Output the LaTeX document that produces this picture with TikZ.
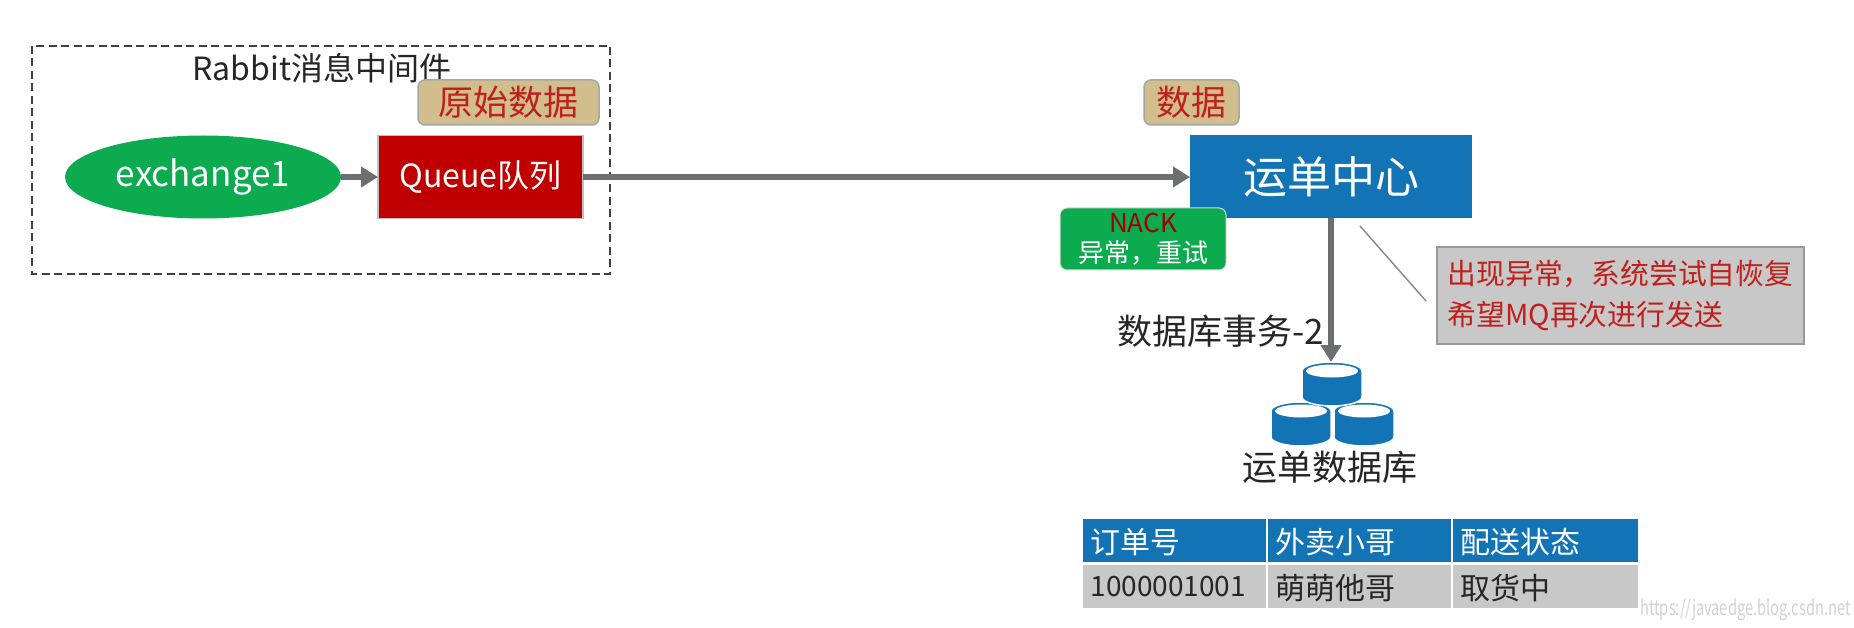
\documentclass[tikz,border=0pt]{standalone}
\usepackage{fontspec}
\setmainfont{Noto Sans CJK SC}
\usetikzlibrary{arrows.meta,shapes.geometric}

\definecolor{boxblue}{HTML}{1273B5}
\definecolor{boxgreen}{HTML}{0CAB50}
\definecolor{boxred}{HTML}{C00000}
\definecolor{boxtan}{HTML}{D2BD8D}
\definecolor{boxgray}{HTML}{C8C8C8}
\definecolor{linegray}{HTML}{6D6E72}
\definecolor{textred}{HTML}{C0201C}

\newcommand{\fsz}[1]{\fontsize{#1}{#1}\selectfont}

\tikzset{
    flow/.style={draw=linegray, line width=5.5pt, -{Triangle[length=17pt,width=20pt]}},
    tagbox/.style={draw=black!35, line width=1.5pt, fill=boxtan, rounded corners=7pt, text=textred, font=\fsz{35}, anchor=center, inner sep=0pt, outer sep=0pt},
    solidbox/.style={anchor=center, inner sep=0pt, outer sep=0pt, text=white},
    headcell/.style={fill=boxblue, text=white, anchor=north west, minimum height=43pt, inner sep=0pt, outer sep=0pt, font=\fsz{30}, align=left, text depth=0pt},
    rowcell/.style={fill=boxgray, text=black!85, anchor=north west, minimum height=43pt, inner sep=0pt, outer sep=0pt, font=\fsz{30}, align=left, text depth=0pt},
    dbcyl/.pic={
        \filldraw[fill=boxblue, draw=white, line width=1.5pt] (-30,-13) -- (-30,13)
            arc[start angle=180, end angle=0, x radius=30, y radius=9]
            -- (30,-13) arc[start angle=0, end angle=-180, x radius=30, y radius=9] -- cycle;
        \fill[white] (0,-13) ellipse[x radius=26, y radius=6.5];
    }
}

\begin{document}
\begin{tikzpicture}[x=1pt,y=-1pt]

    \useasboundingbox (0,0) rectangle (1854,628);

    % Rabbit
    \draw[line width=2.5pt, dash pattern=on 8pt off 4.5pt, black!75] (32,46) rectangle (610,274);

    \node[font=\fsz{32}, text=black!85, inner sep=0pt] (rabbit) at (322,68) {Rabbit消息中间件};

    \node[tagbox, minimum width=181pt, minimum height=45pt] (rawtag) at (508.5,102.5) {原始数据};

    \node[solidbox, ellipse, fill=boxgreen, minimum width=276pt, minimum height=83pt, font=\fsz{35}] (exchange) at (203,177) {exchange1};

    \node[solidbox, fill=boxred, draw=black!25, line width=1.5pt, minimum width=205pt, minimum height=83pt, font=\fsz{32}] (queue) at (480.5,177) {Queue队列};

    % Center
    \node[tagbox, minimum width=95pt, minimum height=45pt] (datatag) at (1191.5,102.5) {数据};

    \node[solidbox, fill=boxblue, minimum width=282pt, minimum height=83pt, font=\fsz{44}] (center) at (1331,177) {运单中心};

    \node[solidbox, fill=boxgreen, draw=black!15, line width=1pt, rounded corners=7pt, minimum width=166pt, minimum height=62pt, align=center, font=\fsz{26}] (nack) at (1143,239) {{\color{boxred!85!black}NACK}\\[4pt]异常，重试};

    \node[fill=boxgray, draw=black!40, line width=1.5pt, anchor=center, minimum width=367pt, minimum height=97pt, inner sep=0pt, text=textred, align=left, font=\fsz{28.8}] (note) at (1620.5,295.5) {出现异常，系统尝试自恢复\\[13pt]希望MQ再次进行发送};

    \coordinate (linefrom) at (1360,226);
    \coordinate (lineto) at (1426,301);
    \draw[black!45, line width=1.5pt] (linefrom) -- (lineto);

    % Database
    \foreach \x/\y in {
        1301/424,
        1364/424,
        1332/384
    }{
        \pic at (\x,\y) {dbcyl};
    }

    \coordinate (dbtop) at (1331,362);
    \draw[flow] (exchange) -- (queue);
    \draw[flow] (queue) -- (center);
    \draw[flow] (center) -- (dbtop);

    \node[font=\fsz{35}, text=black!85, inner sep=0pt, anchor=east] (txlabel) at (1324,331) {数据库事务-2};
    \node[font=\fsz{35}, text=black!85, inner sep=0pt] (dblabel) at (1330,467) {运单数据库};

    % Table
    \foreach \name/\x/\w/\txt in {
        orderhead/1083/183/订单号,
        riderhead/1268/183/外卖小哥,
        statehead/1453/185/配送状态
    }{
        \node[headcell, minimum width=\w pt, text width=\w pt-9pt, inner xsep=0pt] (\name) at (\x,519) {\hspace*{3pt}\txt};
    }
    \foreach \name/\x/\w/\txt in {
        orderrow/1083/183/{\fsz{28}1000001001},
        riderrow/1268/183/萌萌他哥,
        staterow/1453/185/取货中
    }{
        \node[rowcell, minimum width=\w pt, text width=\w pt-9pt, inner xsep=0pt] (\name) at (\x,565) {\hspace*{3pt}\txt};
    }

    % Watermark
    \node[font=\fsz{21}, text=black!18, inner sep=0pt, anchor=east, xscale=0.7] (mark) at (1851,610) {https://javaedge.blog.csdn.net};

\end{tikzpicture}
\end{document}
